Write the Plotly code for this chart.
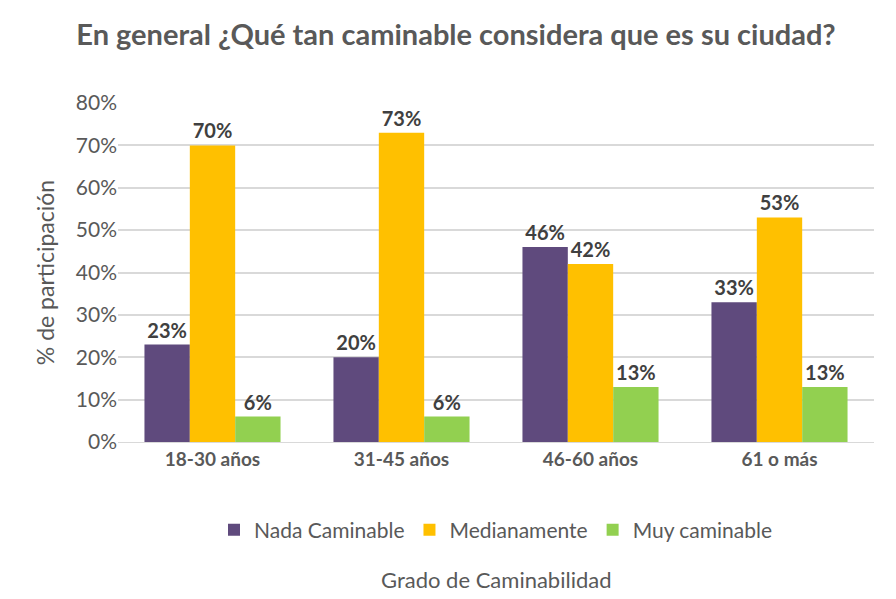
import plotly.graph_objects as go

categories = ["18-30 años", "31-45 años", "46-60 años", "61 o más"]
nada = [23, 20, 46, 33]
mediana = [70, 73, 42, 53]
muy = [6, 6, 13, 13]
series_names = ["Nada Caminable", "Medianamente", "Muy caminable"]
colors = ["#5F4A7D", "#FFC000", "#92D050"]
y_ticks = [0, 10, 20, 30, 40, 50, 60, 70, 80]

FONT = "Lato, 'Open Sans', sans-serif"
GRAY = "#595959"

fig = go.Figure()
for name, vals, col in zip(series_names, [nada, mediana, muy], colors):
    fig.add_trace(go.Bar(
        name=name, x=categories, y=vals,
        marker=dict(color=col, line=dict(width=0)),
        text=[f"{v}%" for v in vals], textposition="outside",
        textfont=dict(family=FONT, size=20, color="#404040", weight="bold"),
        cliponaxis=False,
    ))

fig.update_layout(
    width=896, height=599,
    paper_bgcolor="white", plot_bgcolor="white",
    margin=dict(l=110, r=30, t=95, b=165),
    barmode="group", bargap=0.28, bargroupgap=0,
    title=dict(text="<b>En general ¿Qué tan caminable considera que es su ciudad?</b>",
               x=0.5, xanchor="center", y=0.955, yanchor="middle",
               font=dict(family=FONT, size=29, color=GRAY)),
    font=dict(family=FONT, color=GRAY),
    showlegend=True,
    legend=dict(orientation="h", x=0.5, xanchor="center", y=-0.26, yanchor="middle",
                font=dict(family=FONT, size=21, color=GRAY), traceorder="normal",
                itemwidth=30),
    xaxis=dict(showgrid=False, showline=True, linecolor="#D9D9D9", ticks="",
               tickfont=dict(family=FONT, size=19, color=GRAY, weight="bold")),
    yaxis=dict(range=[0, 80], tickvals=y_ticks, ticktext=[f"{t}%" for t in y_ticks],
               showgrid=True, gridcolor="#D9D9D9", gridwidth=1.5, zeroline=False,
               tickfont=dict(family=FONT, size=21, color=GRAY),
               title=dict(text="% de participación", font=dict(family=FONT, size=23, color=GRAY),
                          standoff=14)),
    annotations=[dict(text="Grado de Caminabilidad", xref="paper", yref="paper",
                      x=0.5, y=-0.405, xanchor="center", yanchor="middle", showarrow=False,
                      font=dict(family=FONT, size=22, color=GRAY))],
)

fig.write_html("out.html")
